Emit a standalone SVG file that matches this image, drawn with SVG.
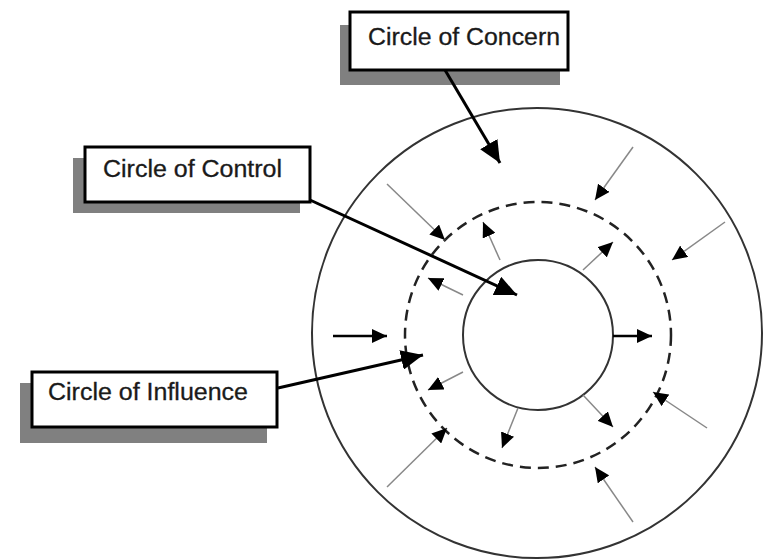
<svg xmlns="http://www.w3.org/2000/svg" width="763" height="560" viewBox="0 0 763 560">
<defs>
<style>
.shadow{fill:#808080}
.box{fill:#fff;stroke:#000;stroke-width:3}
.lbl{font-family:"Liberation Sans",Arial,sans-serif;font-size:23px;fill:#1a1a1a;stroke:#1a1a1a;stroke-width:0.3}
.ring{fill:none;stroke:#333;stroke-width:2}
.dash{fill:none;stroke:#222;stroke-width:2.5;stroke-dasharray:11 7}
.big{stroke:#000;stroke-width:3;fill:none;marker-end:url(#hb)}
.mid{stroke:#000;stroke-width:2.5;fill:none;marker-end:url(#hs)}
.thin{stroke:#888;stroke-width:1.5;fill:none;marker-end:url(#hs)}
</style>
<marker id="hb" markerUnits="userSpaceOnUse" markerWidth="24" markerHeight="20" refX="22" refY="10" orient="auto" viewBox="0 0 24 20">
<path d="M0,0 L22,10 L0,20 Z" fill="#000"/>
</marker>
<marker id="hs" markerUnits="userSpaceOnUse" markerWidth="16" markerHeight="14" refX="15" refY="7" orient="auto" viewBox="0 0 16 14">
<path d="M0,0 L15,7 L0,14 Z" fill="#000"/>
</marker>
</defs>
<rect width="763" height="560" fill="#fff"/>
<g id="circles">
<circle id="outer" class="ring" cx="537" cy="333" r="225"/>
<circle id="middle" class="dash" cx="538" cy="335" r="133"/>
<circle id="inner" class="ring" cx="538" cy="335" r="75" stroke-width="2.5"/>
</g>
<g id="concern">
<rect class="shadow" x="340" y="25" width="220" height="60"/>
<rect class="box" x="350" y="12" width="218" height="58"/>
<text class="lbl" x="368" y="45" textLength="192" lengthAdjust="spacingAndGlyphs">Circle of Concern</text>
</g>
<g id="control">
<rect class="shadow" x="73" y="158" width="227" height="55"/>
<rect class="box" x="85" y="147" width="225" height="55"/>
<text class="lbl" x="103" y="177" textLength="179" lengthAdjust="spacingAndGlyphs">Circle of Control</text>
</g>
<g id="influence">
<rect class="shadow" x="20" y="383" width="247" height="60"/>
<rect class="box" x="32" y="372" width="245" height="55"/>
<text class="lbl" x="48" y="400" textLength="200" lengthAdjust="spacingAndGlyphs">Circle of Influence</text>
</g>
<g id="connectors">
<line class="big" x1="445" y1="70" x2="500" y2="163"/>
<line class="big" x1="310" y1="200" x2="517" y2="295"/>
<line class="big" x1="278" y1="388" x2="423" y2="355"/>
<line class="mid" x1="333" y1="336" x2="387" y2="336"/>
<line class="mid" x1="613" y1="336" x2="652" y2="336"/>
<line class="thin" x1="387" y1="184" x2="445" y2="240"/>
<line class="thin" x1="633" y1="147" x2="595" y2="200"/>
<line class="thin" x1="725" y1="222" x2="672" y2="260"/>
<line class="thin" x1="707" y1="428" x2="653" y2="392"/>
<line class="thin" x1="633" y1="522" x2="595" y2="467"/>
<line class="thin" x1="387" y1="487" x2="447" y2="428"/>
<line class="thin" x1="500" y1="260" x2="483" y2="222"/>
<line class="thin" x1="583" y1="270" x2="613" y2="242"/>
<line class="thin" x1="463" y1="295" x2="428" y2="278"/>
<line class="thin" x1="463" y1="372" x2="428" y2="390"/>
<line class="thin" x1="518" y1="408" x2="502" y2="448"/>
<line class="thin" x1="583" y1="395" x2="613" y2="427"/>
</g>
</svg>
